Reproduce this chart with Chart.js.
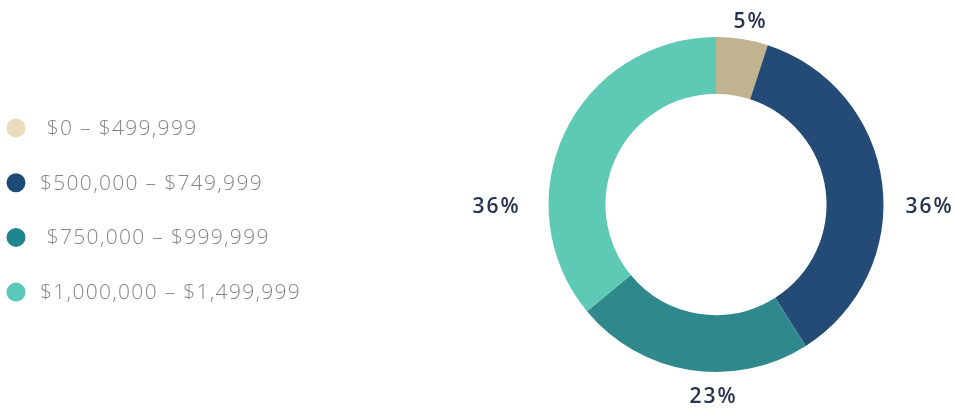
<!DOCTYPE html>
<html>
<head>
<meta charset="utf-8">
<title>Price range share</title>
<script src="https://cdn.jsdelivr.net/npm/chart.js"></script>
<style>
  html, body { margin: 0; padding: 0; background: #fff; }
  #wrap { width: 955px; height: 412px; }
</style>
</head>
<body>
<div id="wrap"><canvas id="chart" width="955" height="412"></canvas></div>
<script>
const PRICE_RANGES = [" $0 – $499,999", "$500,000 – $749,999", " $750,000 – $999,999", "$1,000,000 – $1,499,999"];
const SHARES = [5, 36, 23, 36];
const SLICE_COLORS = ["#c1b38f", "#234b76", "#2f898c", "#5ec9b4"];
const LEGEND_COLORS = ["#e9dcbd", "#1d4a77", "#1f868e", "#5cc8ba"];

// where each percentage sits: degrees clockwise from 12 o'clock, px past the outer edge
const LABEL_ANGLES = [10.4, 90.7, 181, 269.4];
const LABEL_OFFSETS = [18, 45, 25, 53];

// legend drawn by hand so the dots and text can sit apart from the ring
const sideLegend = {
  id: "sideLegend",
  afterDraw(chart, args, opts) {
    const ctx = chart.ctx;
    ctx.save();
    ctx.font = opts.font;
    ctx.textBaseline = "middle";
    ctx.letterSpacing = opts.letterSpacing;
    chart.data.labels.forEach((label, i) => {
      const y = opts.top + i * opts.spacing;
      ctx.beginPath();
      ctx.arc(opts.x, y, opts.radius, 0, Math.PI * 2);
      ctx.fillStyle = LEGEND_COLORS[i];
      ctx.fill();
      ctx.fillStyle = opts.color;
      ctx.fillText(label, opts.textX, y + 1);
    });
    ctx.restore();
  }
};

// percentage text around the ring
const ringLabels = {
  id: "ringLabels",
  afterDatasetsDraw(chart, args, opts) {
    const ctx = chart.ctx;
    const meta = chart.getDatasetMeta(0);
    ctx.save();
    ctx.font = opts.font;
    ctx.fillStyle = opts.color;
    ctx.textAlign = "center";
    ctx.textBaseline = "middle";
    ctx.letterSpacing = opts.letterSpacing;
    meta.data.forEach((arc, i) => {
      const { x, y, outerRadius } = arc.getProps(["x", "y", "outerRadius"], true);
      const a = LABEL_ANGLES[i] * Math.PI / 180;
      const d = outerRadius + LABEL_OFFSETS[i];
      ctx.fillText(chart.data.datasets[0].data[i] + "%", x + d * Math.sin(a) + 1, y - d * Math.cos(a));
    });
    ctx.restore();
  }
};

new Chart(document.getElementById("chart"), {
  type: "doughnut",
  data: {
    labels: PRICE_RANGES,
    datasets: [{
      data: SHARES,
      backgroundColor: SLICE_COLORS,
      borderWidth: 0,
    }],
  },
  options: {
    responsive: false,
    animation: false,
    cutout: "66%",
    layout: { padding: { left: 477, right: 0, top: 37, bottom: 40 } },
    plugins: {
      legend: { display: false },
      tooltip: { enabled: false },
      sideLegend: {
        x: 16, top: 128, spacing: 54.7, radius: 9.5, textX: 40,
        font: "300 21px 'Open Sans'", color: "#858585", letterSpacing: "1.3px",
      },
      ringLabels: {
        font: "600 21px 'Open Sans'", color: "#283350", letterSpacing: "2px",
      },
    },
  },
  plugins: [sideLegend, ringLabels],
});
</script>
</body>
</html>
